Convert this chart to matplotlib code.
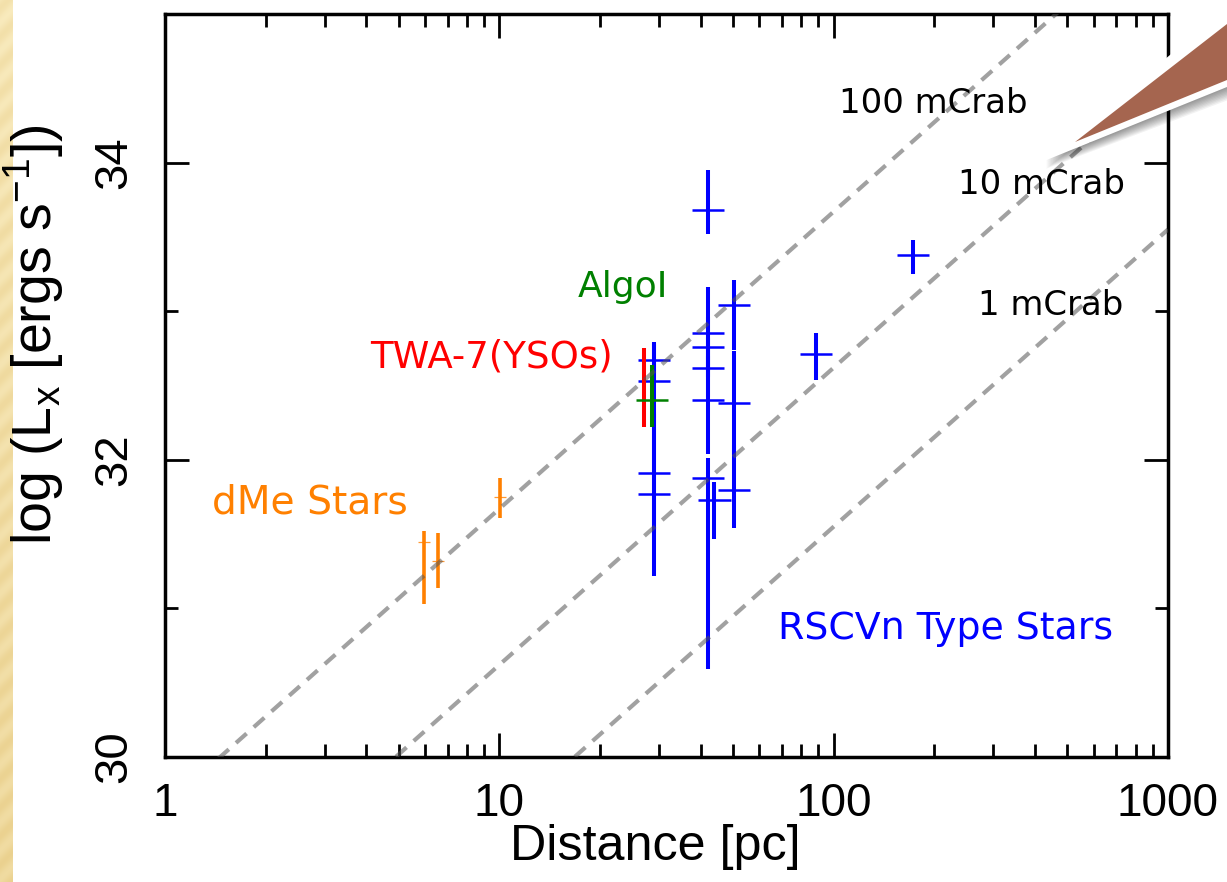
import numpy as np
import matplotlib
matplotlib.use('Agg')
import matplotlib.pyplot as plt
from matplotlib.patches import Polygon
from matplotlib.ticker import LogLocator, NullFormatter, FixedLocator

# ---------------- data ----------------
dme_dist = [5.96, 6.56, 10.07]
dme_logL = [31.45, 31.32, 31.75]
dme_err_lo = [0.42, 0.18, 0.14]
dme_err_hi = [0.07, 0.19, 0.13]

twa_dist = [27.0]
twa_logL = [32.45]
twa_err_lo = [0.23]
twa_err_hi = [0.30]

algol_dist = [28.7]
algol_logL = [32.40]
algol_err_lo = [0.18]
algol_err_hi = [0.24]

rscvn_dist = [29.1, 29.1, 29.1, 29.1, 42.2, 42.2, 42.2, 42.2, 42.2, 42.2,
              44.0, 50.2, 50.2, 50.2, 88.3, 172.5]
rscvn_logL = [32.67, 32.53, 31.91, 31.77, 33.68, 32.85, 32.76, 32.62, 32.40, 31.88,
              31.73, 33.04, 32.38, 31.80, 32.71, 33.38]
rscvn_err_lo = [0.12, 0.25, 0.40, 0.55, 0.16, 0.25, 0.20, 0.20, 0.36, 1.29,
                0.26, 0.30, 0.35, 0.26, 0.17, 0.13]
rscvn_err_hi = [0.12, 0.25, 0.40, 0.55, 0.27, 0.31, 0.20, 0.20, 0.30, 0.13,
                0.12, 0.17, 0.35, 0.30, 0.14, 0.10]

flux_labels = ['100 mCrab', '10 mCrab', '1 mCrab']
flux_offsets = [29.67, 28.62, 27.55]   # log L = 2 log d + offset
flux_label_pos = [(198.0, 34.40), (417.0, 33.85), (447.0, 33.04)]

x_ticks = [1, 10, 100, 1000]
x_ticklabels = ['1', '10', '100', '1000']
y_ticks = [30, 32, 34]
y_minor = [31, 33]

# ---------------- figure ----------------
W, H = 1227, 882
fig = plt.figure(figsize=(W / 100, H / 100), dpi=100)
fig.patch.set_facecolor('white')

ax = fig.add_axes([165 / W, 1 - 757 / H, (1168 - 165) / W, (757 - 14) / H])
ax.set_xscale('log')
ax.set_xlim(1, 1000)
ax.set_ylim(30, 35)

BLUE = '#0000FF'
ORANGE = '#FF8000'
RED = '#FF0000'
GREEN = '#008000'


def xerr_of(dist, half_dex):
    d = np.asarray(dist, dtype=float)
    return [d - d * 10 ** (-half_dex), d * 10 ** half_dex - d]


def draw_group(dist, logL, lo, hi, color, half_dex, vlw, hlw, halpha=1.0):
    ax.errorbar(dist, logL, yerr=[lo, hi], fmt='none', ecolor=color,
                elinewidth=vlw, capsize=0, zorder=3)
    if half_dex > 0:
        ax.errorbar(dist, logL, xerr=xerr_of(dist, half_dex), fmt='none',
                    ecolor=color, elinewidth=hlw, capsize=0, zorder=3,
                    alpha=halpha)


draw_group(dme_dist, dme_logL, dme_err_lo, dme_err_hi, ORANGE, 0.018, 2.6, 0.9, 0.8)
draw_group(rscvn_dist, rscvn_logL, rscvn_err_lo, rscvn_err_hi, BLUE, 0.048, 2.9, 1.8)
draw_group(twa_dist, twa_logL, twa_err_lo, twa_err_hi, RED, 0.0, 2.9, 1.8)
draw_group(algol_dist, algol_logL, algol_err_lo, algol_err_hi, GREEN, 0.048, 2.9, 1.8)

# flux lines
xs = np.array([1.0, 1000.0])
for off in flux_offsets:
    ax.plot(xs, 2 * np.log10(xs) + off, color='#555555', alpha=0.55,
            lw=3.0, dashes=(3.4, 2.3), zorder=4)

for lab, (px, py) in zip(flux_labels, flux_label_pos):
    ax.text(px, py, lab, fontsize=24.4, color='black', ha='center', va='center',
            family='DejaVu Sans', zorder=5)

ax.text(23.5, 33.16, 'AlgoI', color=GREEN, fontsize=26, ha='center', va='center', family='DejaVu Sans')
ax.text(9.46, 32.69, 'TWA-7(YSOs)', color=RED, fontsize=26.7, ha='center', va='center', family='DejaVu Sans')
ax.text(2.72, 31.71, 'dMe Stars', color=ORANGE, fontsize=28.2, ha='center', va='center', family='DejaVu Sans')
ax.text(216.0, 30.86, 'RSCVn Type Stars', color=BLUE, fontsize=27.3, ha='center', va='center', family='DejaVu Sans')

# ticks
ax.set_xticks(x_ticks)
ax.set_xticklabels(x_ticklabels)
ax.xaxis.set_minor_locator(LogLocator(base=10, subs=np.arange(2, 10)))
ax.xaxis.set_minor_formatter(NullFormatter())
ax.set_yticks(y_ticks)
ax.yaxis.set_minor_locator(FixedLocator(y_minor))
ax.tick_params(which='both', direction='in', top=True, right=True, width=2.0,
               colors='black')
ax.tick_params(which='major', length=17)
ax.tick_params(which='minor', length=9.5)
ax.tick_params(axis='x', which='major', pad=18, labelsize=33)
ax.tick_params(axis='y', which='major', pad=21, labelsize=34, labelrotation=90)
for lbl in ax.get_xticklabels() + ax.get_yticklabels():
    lbl.set_family('Liberation Sans')
for lbl in ax.get_yticklabels():
    lbl.set_va('center')
for sp in ax.spines.values():
    sp.set_linewidth(2.5)

fig.text(655 / W, 1 - 847 / H, 'Distance [pc]', fontsize=36.2, family='Liberation Sans',
         ha='center', va='center')
fig.text(34 / W, 1 - 335 / H, r'log (L$_\mathregular{x}$ [ergs s$^\mathregular{-1}$])',
         fontsize=40, family='Liberation Sans', rotation=90, ha='center', va='center')

# ---------------- decorations ----------------
# golden strip on the left
sax = fig.add_axes([0, 0, 13 / W, 1])
sax.set_axis_off()
yy, xx = np.mgrid[0:H, 0:13]
phase = np.sin((xx + yy) * 0.22) * 0.5 + 0.5
fade = yy / H
c1 = np.array([0.98, 0.93, 0.76])
c2 = np.array([0.92, 0.82, 0.56])
mix = np.clip(0.35 * phase + 0.55 * fade + 0.1, 0, 1)[..., None]
img = c1 * (1 - mix) + c2 * mix
sax.imshow(img, aspect='auto', extent=[0, 1, 0, 1], origin='upper')


def P(x, y):
    return (x / W, 1 - y / H)


# shadow of callout
for k in range(10):
    d = 1 + k * 1.5
    shadow = Polygon([P(1046, 160 + d * 0.6), P(1227, 10 + d), P(1227, 86 + d)],
                     closed=True, transform=fig.transFigure, facecolor='black',
                     edgecolor='none', alpha=0.05, zorder=20)
    fig.add_artist(shadow)
outer = Polygon([P(1044, 161), P(1227, 7), P(1227, 87)], closed=True,
                transform=fig.transFigure, facecolor='white', edgecolor='none', zorder=21)
fig.add_artist(outer)
inner = Polygon([P(1075, 142), P(1227, 24), P(1227, 80)], closed=True,
                transform=fig.transFigure, facecolor='#A5654F', edgecolor='none', zorder=22)
fig.add_artist(inner)

fig.savefig('out.png', dpi=100)
